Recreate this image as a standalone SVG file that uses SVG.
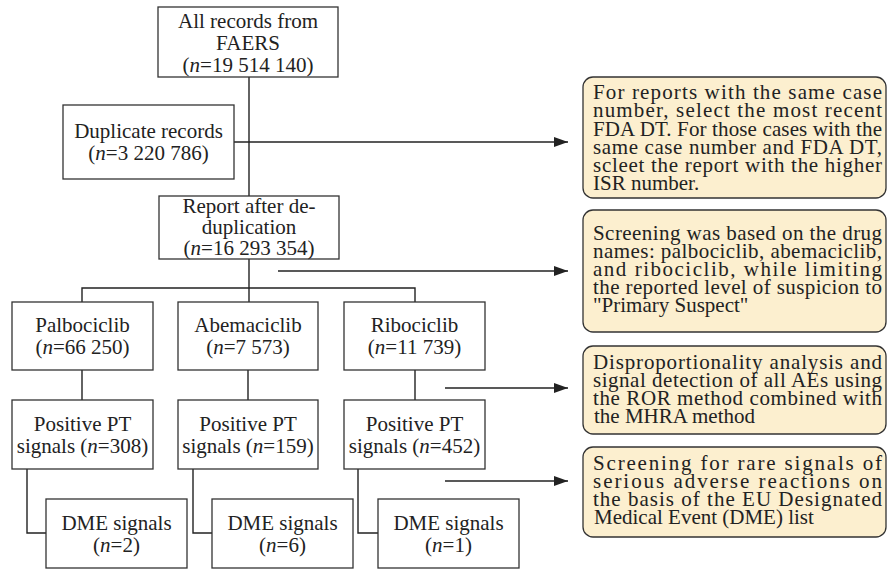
<svg xmlns="http://www.w3.org/2000/svg" width="889" height="570" viewBox="0 0 889 570">
<defs>
<style>
.box{fill:#ffffff;stroke:#333333;stroke-width:1.3}
.note{fill:#fcefcf;stroke:#333333;stroke-width:1.3}
.t{font-family:"Liberation Serif","Times New Roman",serif;font-size:21px;fill:#222222}
.c{text-anchor:middle}
.ln{fill:none;stroke:#222222;stroke-width:1.4}
</style>
<marker id="ah" markerWidth="14" markerHeight="10" refX="14" refY="5" orient="auto" markerUnits="userSpaceOnUse">
<path d="M0,0 L14,5 L0,10 Z" fill="#222222"/>
</marker>
</defs>
<rect width="889" height="570" fill="#ffffff"/>

<g id="connectors">
<path class="ln" d="M249,77 V196"/>
<path class="ln" d="M234,142 H568" marker-end="url(#ah)"/>
<path class="ln" d="M249,259 V288"/>
<path class="ln" d="M82,302 V288 H415 V302"/>
<path class="ln" d="M249,288 V302"/>
<path class="ln" d="M278,271 H568" marker-end="url(#ah)"/>
<path class="ln" d="M82,370 V400"/>
<path class="ln" d="M248,370 V400"/>
<path class="ln" d="M415,370 V400"/>
<path class="ln" d="M445,388 H568" marker-end="url(#ah)"/>
<path class="ln" d="M445,481 H568" marker-end="url(#ah)"/>
<path class="ln" d="M27,469 V533 H46"/>
<path class="ln" d="M193,469 V533 H212"/>
<path class="ln" d="M358,469 V533 H378"/>
</g>

<g id="all-records">
<rect class="box" x="158" y="7" width="180" height="70"/>
<text class="t c" x="248" y="28">All records from</text>
<text class="t c" x="248" y="50">FAERS</text>
<text class="t c" x="248" y="72">(<tspan font-style="italic">n</tspan>=19 514 140)</text>
</g>

<g id="duplicates">
<rect class="box" x="63" y="105" width="171" height="74"/>
<text class="t c" x="148.5" y="138">Duplicate records</text>
<text class="t c" x="148.5" y="160">(<tspan font-style="italic">n</tspan>=3 220 786)</text>
</g>

<g id="after-dedup">
<rect class="box" x="159" y="196" width="180" height="63"/>
<text class="t c" x="249" y="213">Report after de-</text>
<text class="t c" x="249" y="234">duplication</text>
<text class="t c" x="249" y="255">(<tspan font-style="italic">n</tspan>=16 293 354)</text>
</g>

<g id="palbociclib">
<rect class="box" x="12" y="302" width="141" height="68"/>
<text class="t c" x="82.5" y="332">Palbociclib</text>
<text class="t c" x="82.5" y="354">(<tspan font-style="italic">n</tspan>=66 250)</text>
</g>
<g id="abemaciclib">
<rect class="box" x="178" y="302" width="140" height="68"/>
<text class="t c" x="248" y="332">Abemaciclib</text>
<text class="t c" x="248" y="354">(<tspan font-style="italic">n</tspan>=7 573)</text>
</g>
<g id="ribociclib">
<rect class="box" x="344" y="302" width="141" height="68"/>
<text class="t c" x="414.5" y="332">Ribociclib</text>
<text class="t c" x="414.5" y="354">(<tspan font-style="italic">n</tspan>=11 739)</text>
</g>

<g id="pt-palbociclib">
<rect class="box" x="12" y="400" width="141" height="69"/>
<text class="t c" x="82.5" y="431">Positive PT</text>
<text class="t c" x="82.5" y="453">signals (<tspan font-style="italic">n</tspan>=308)</text>
</g>
<g id="pt-abemaciclib">
<rect class="box" x="178" y="400" width="140" height="69"/>
<text class="t c" x="248" y="431">Positive PT</text>
<text class="t c" x="248" y="453">signals (<tspan font-style="italic">n</tspan>=159)</text>
</g>
<g id="pt-ribociclib">
<rect class="box" x="344" y="400" width="141" height="69"/>
<text class="t c" x="414.5" y="431">Positive PT</text>
<text class="t c" x="414.5" y="453">signals (<tspan font-style="italic">n</tspan>=452)</text>
</g>

<g id="dme-palbociclib">
<rect class="box" x="46" y="499" width="141" height="69"/>
<text class="t c" x="116.5" y="530">DME signals</text>
<text class="t c" x="116.5" y="552">(<tspan font-style="italic">n</tspan>=2)</text>
</g>
<g id="dme-abemaciclib">
<rect class="box" x="212" y="499" width="141" height="69"/>
<text class="t c" x="282.5" y="530">DME signals</text>
<text class="t c" x="282.5" y="552">(<tspan font-style="italic">n</tspan>=6)</text>
</g>
<g id="dme-ribociclib">
<rect class="box" x="378" y="499" width="141" height="69"/>
<text class="t c" x="448.5" y="530">DME signals</text>
<text class="t c" x="448.5" y="552">(<tspan font-style="italic">n</tspan>=1)</text>
</g>

<g id="note-dedup">
<rect class="note" x="583" y="77" width="303" height="121" rx="10"/>
<text class="t" x="593" y="99" textLength="289" lengthAdjust="spacing">For reports with the same case</text>
<text class="t" x="593" y="117.3" textLength="289" lengthAdjust="spacing">number, select the most recent</text>
<text class="t" x="593" y="135.5" textLength="289" lengthAdjust="spacing">FDA DT. For those cases with the</text>
<text class="t" x="593" y="153.8" textLength="289" lengthAdjust="spacing">same case number and FDA DT,</text>
<text class="t" x="593" y="172" textLength="289" lengthAdjust="spacing">scleet the report with the higher</text>
<text class="t" x="593" y="190.3">ISR number.</text>
</g>

<g id="note-screening">
<rect class="note" x="583" y="210" width="303" height="122" rx="10"/>
<text class="t" x="593" y="240" textLength="289" lengthAdjust="spacing">Screening was based on the drug</text>
<text class="t" x="593" y="258" textLength="289" lengthAdjust="spacing">names: palbociclib, abemaciclib,</text>
<text class="t" x="593" y="276" textLength="289" lengthAdjust="spacing">and ribociclib, while limiting</text>
<text class="t" x="593" y="294" textLength="289" lengthAdjust="spacing">the reported level of suspicion to</text>
<text class="t" x="593" y="312">"Primary Suspect"</text>
</g>

<g id="note-ror">
<rect class="note" x="583" y="346" width="303" height="88" rx="10"/>
<text class="t" x="593" y="369" textLength="289" lengthAdjust="spacing">Disproportionality analysis and</text>
<text class="t" x="593" y="387" textLength="289" lengthAdjust="spacing">signal detection of all AEs using</text>
<text class="t" x="593" y="405" textLength="289" lengthAdjust="spacing">the ROR method combined with</text>
<text class="t" x="594" y="423">the MHRA method</text>
</g>

<g id="note-dme">
<rect class="note" x="583" y="447" width="303" height="90" rx="10"/>
<text class="t" x="593" y="470" textLength="289" lengthAdjust="spacing">Screening for rare signals of</text>
<text class="t" x="593" y="488" textLength="289" lengthAdjust="spacing">serious adverse reactions on</text>
<text class="t" x="593" y="506" textLength="289" lengthAdjust="spacing">the basis of the EU Designated</text>
<text class="t" x="594" y="524">Medical Event (DME) list</text>
</g>
</svg>
